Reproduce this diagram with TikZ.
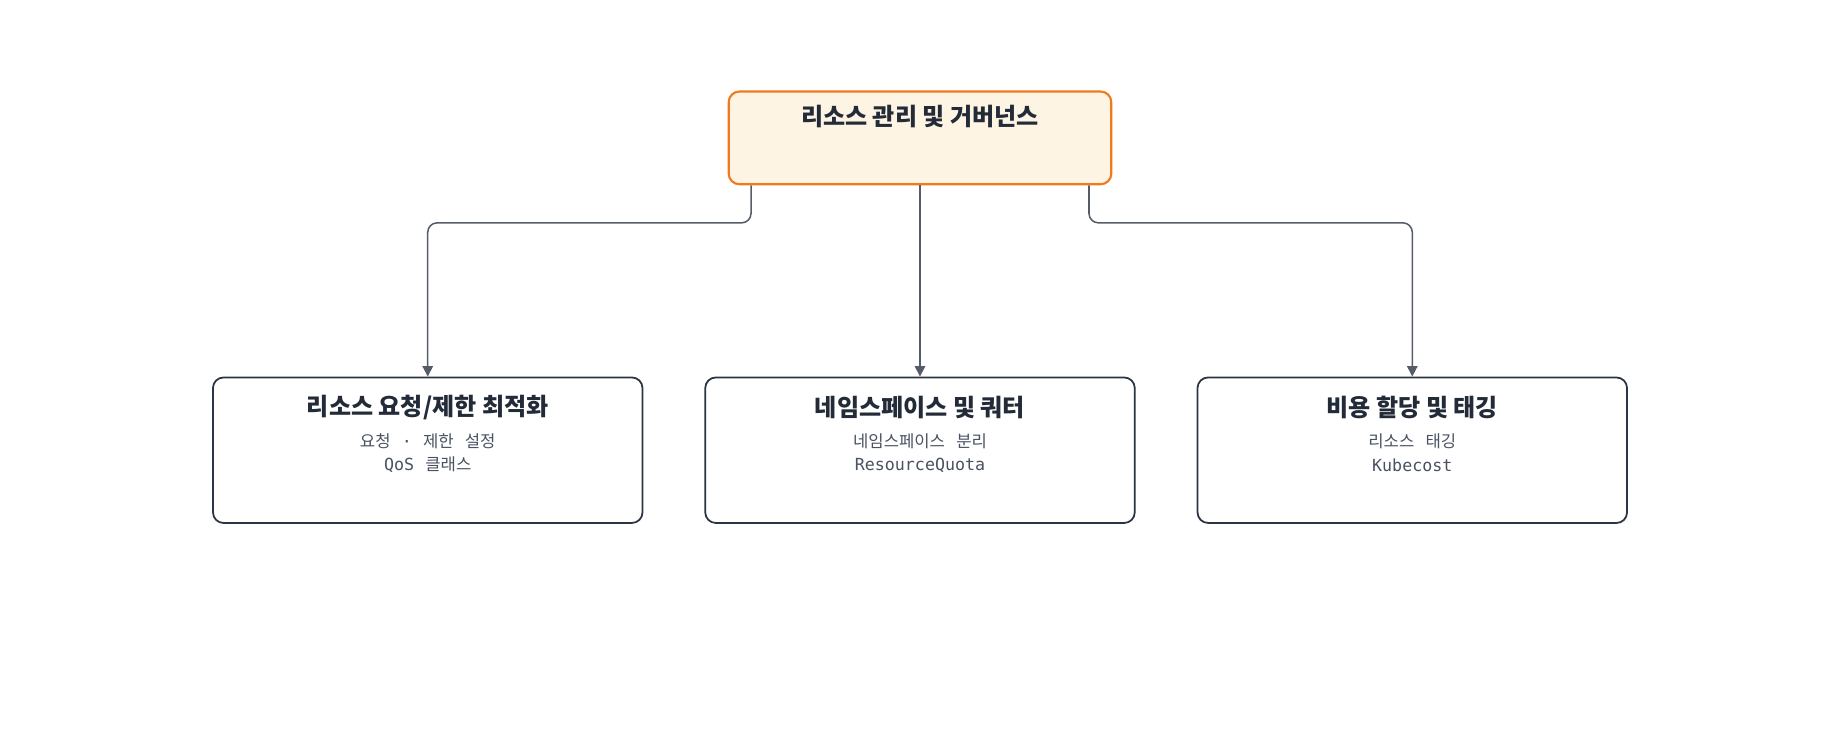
\documentclass[tikz,border=0pt]{standalone}
\usepackage{fontspec}
\setmainfont{Noto Sans CJK KR}
\newfontfamily\subfont[WordSpace=3]{Noto Sans CJK KR}
\newfontfamily\monofont{DejaVu Sans Mono}
\usetikzlibrary{positioning,arrows.meta}

\definecolor{govorange}{HTML}{EF7A1C}
\definecolor{govfill}{HTML}{FEF4E4}
\definecolor{boxline}{HTML}{2B3442}
\definecolor{titletext}{HTML}{232B38}
\definecolor{subtext}{HTML}{4A5261}
\definecolor{linkgray}{HTML}{565C67}

\begin{document}
\begin{tikzpicture}[x=1pt, y=-1pt, node distance=52pt,
	topbox/.style={draw=govorange, fill=govfill, line width=1.8pt, rounded corners=9pt, minimum width=326pt, minimum height=79pt},
	areabox/.style={draw=boxline, fill=white, line width=1.5pt, rounded corners=9pt, minimum width=366pt, minimum height=124pt},
	title/.style={font=\bfseries\fontsize{20.5}{25}\selectfont, text=titletext, inner sep=0pt},
	subline/.style={font=\subfont\fontsize{14.2}{18}\selectfont, text=subtext, inner sep=0pt},
	link/.style={draw=linkgray, line width=1.3pt, rounded corners=8pt, -{Triangle[length=9pt,width=9pt]}}]
	
	\useasboundingbox (0,0) rectangle (1568,622);
	
	\node[topbox] (gov) at (784,117.5) {};
	\node[areabox, below=163pt of gov] (ns) {};
	\node[areabox, left=of ns] (req) {};
	\node[areabox, right=of ns] (cost) {};
	
	\node[title] (govTitle) at ([yshift=-22pt]gov.north) {리소스 관리 및 거버넌스};
	
	\node[title] (reqTitle) at ([yshift=-26.5pt]req.north) {리소스 요청/제한 최적화};
	\node[subline] (reqA) at ([yshift=-55pt]req.north) {요청 {\monofont·} 제한 설정};
	\node[subline] (reqB) at ([yshift=-75.5pt]req.north) {{\monofont QoS} 클래스};
	
	\node[title] (nsTitle) at ([yshift=-26.5pt]ns.north) {네임스페이스 및 쿼터};
	\node[subline] (nsA) at ([yshift=-55pt]ns.north) {네임스페이스 분리};
	\node[subline] (nsB) at ([yshift=-75.5pt]ns.north) {\monofont ResourceQuota};
	
	\node[title] (costTitle) at ([yshift=-26.5pt]cost.north) {비용 할당 및 태깅};
	\node[subline] (costA) at ([yshift=-55pt]cost.north) {리소스 태깅};
	\node[subline] (costB) at ([yshift=-75.5pt]cost.north) {\monofont Kubecost};
	
	\draw[link] ([xshift=-144pt]gov.south) -- ++(0,32) -| (req.north);
	\draw[link] (gov.south) -- (ns.north);
	\draw[link] ([xshift=144pt]gov.south) -- ++(0,32) -| (cost.north);
	
\end{tikzpicture}
\end{document}
